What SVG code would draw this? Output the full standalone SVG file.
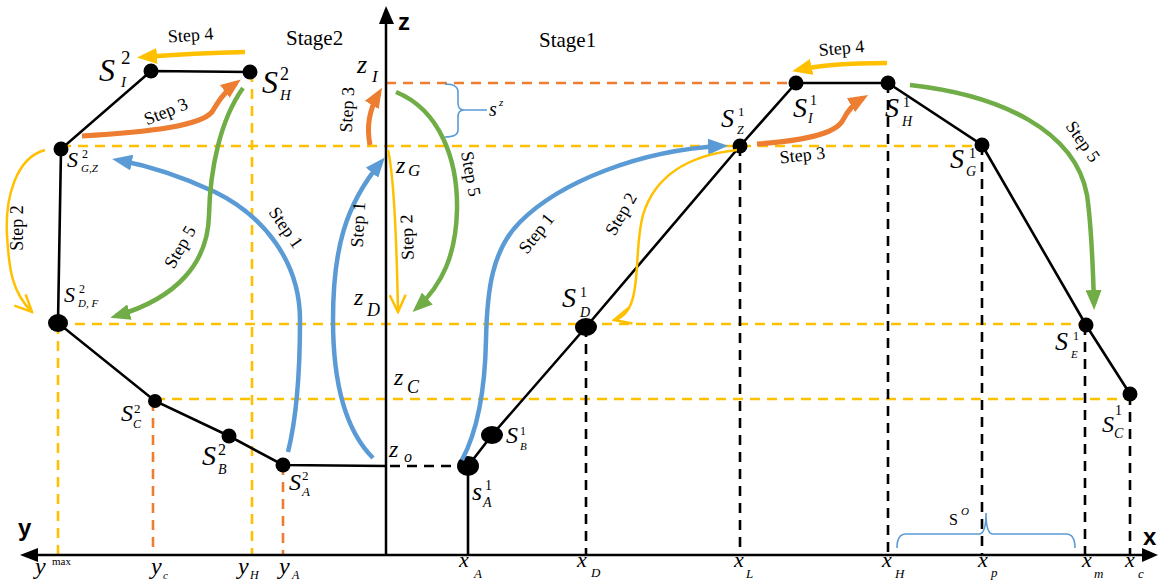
<svg xmlns="http://www.w3.org/2000/svg" width="1158" height="582" viewBox="0 0 1158 582">
<style>
.bg{fill:#fff}
.ax{stroke:#000;stroke-width:2.5;fill:none}
.edge{stroke:#000;stroke-width:2.6;fill:none}
.dy{stroke:#ffc000;stroke-width:2.6;stroke-dasharray:10 7;fill:none}
.do{stroke:#ed7d31;stroke-width:2.6;stroke-dasharray:10 7;fill:none}
.dk{stroke:#000;stroke-width:2.6;stroke-dasharray:10 7;fill:none}
.blue{stroke:#5b9bd5;stroke-width:4.5;fill:none;marker-end:url(#ab)}
.green{stroke:#70ad47;stroke-width:4.5;fill:none;marker-end:url(#ag)}
.orange{stroke:#ed7d31;stroke-width:5;fill:none;marker-end:url(#ao)}
.yel{stroke:#ffc000;stroke-width:4.5;fill:none;marker-end:url(#ay)}
.yth{stroke:#ffc000;stroke-width:2.5;fill:none;marker-end:url(#cy)}
.brace{stroke:#5b9bd5;stroke-width:1.6;fill:none}
.m{font-family:"Liberation Serif","Times New Roman","DejaVu Serif",serif;font-style:italic;fill:#000}
.u{font-family:"Liberation Serif","Times New Roman","DejaVu Serif",serif;fill:#000}
.st{font-family:"Liberation Serif","Times New Roman","DejaVu Serif",serif;font-size:18px;fill:#000;text-anchor:middle}
.ttl{font-family:"Liberation Serif","Times New Roman","DejaVu Serif",serif;font-size:21px;fill:#000}
.axl{font-family:"Liberation Sans",Arial,sans-serif;font-weight:bold;font-size:24px;fill:#000}
</style>
<defs>
<marker id="ab" markerUnits="userSpaceOnUse" markerWidth="20" markerHeight="16" viewBox="0 0 20 16" refX="14" refY="8" orient="auto"><path d="M0,0 L20,8 L0,16 z" fill="#5b9bd5"/></marker>
<marker id="ag" markerUnits="userSpaceOnUse" markerWidth="20" markerHeight="16" viewBox="0 0 20 16" refX="14" refY="8" orient="auto"><path d="M0,0 L20,8 L0,16 z" fill="#70ad47"/></marker>
<marker id="ao" markerUnits="userSpaceOnUse" markerWidth="20" markerHeight="16" viewBox="0 0 20 16" refX="14" refY="8" orient="auto"><path d="M0,0 L20,8 L0,16 z" fill="#ed7d31"/></marker>
<marker id="ay" markerUnits="userSpaceOnUse" markerWidth="20" markerHeight="16" viewBox="0 0 20 16" refX="14" refY="8" orient="auto"><path d="M0,0 L20,8 L0,16 z" fill="#ffc000"/></marker>
<marker id="cy" markerUnits="userSpaceOnUse" markerWidth="20" markerHeight="18" viewBox="0 0 20 18" refX="18" refY="9" orient="auto"><path d="M1,1 L18,9 L1,17" fill="none" stroke="#ffc000" stroke-width="2.5"/></marker>
</defs>
<rect class="bg" x="0" y="0" width="1158" height="582"/>

<g id="guides">
<line class="dy" x1="61" y1="146" x2="982" y2="146"/>
<line class="dy" x1="58" y1="324" x2="1086" y2="324"/>
<line class="dy" x1="155" y1="399" x2="1130" y2="399"/>
<line class="do" x1="386" y1="83" x2="796" y2="83"/>
<line class="dy" x1="58" y1="324" x2="58" y2="555"/>
<line class="dy" x1="252" y1="72" x2="252" y2="555"/>
<line class="do" x1="153" y1="401" x2="153" y2="555"/>
<line class="do" x1="283" y1="465" x2="283" y2="555"/>
<line class="dk" x1="586" y1="327" x2="586" y2="555"/>
<line class="dk" x1="740" y1="146" x2="740" y2="555"/>
<line class="dk" x1="888" y1="83" x2="888" y2="555"/>
<line class="dk" x1="982" y1="145" x2="982" y2="555"/>
<line class="dk" x1="1085" y1="325" x2="1085" y2="555"/>
<line class="dk" x1="1130" y1="395" x2="1130" y2="555"/>
<line class="dk" x1="390" y1="466" x2="458" y2="466"/>
</g>

<g id="axes">
<line class="ax" x1="36" y1="555" x2="1145" y2="555"/>
<path d="M20,555 L38,548 L38,562 z" fill="#000"/>
<path d="M1158,555 L1142,548 L1142,562 z" fill="#000"/>
<line class="ax" x1="386" y1="22" x2="386" y2="555"/>
<path d="M386,6 L379,24 L394,24 z" fill="#000"/>
<text class="axl" x="398" y="30">z</text>
<text class="axl" x="18" y="536">y</text>
<text class="axl" x="1143" y="545">x</text>
<text class="ttl" x="286" y="45">Stage2</text>
<text class="ttl" x="539" y="47">Stage1</text>
</g>

<g id="edges">
<polyline class="edge" points="250,72 151,71 61,149 58,323 155,401 229,436 283,465 386,466"/>
<polyline class="edge" points="468,466 492,435 586,327 740,146 796,83 888,83 982,145 1086,325 1130,394"/>
<line class="edge" x1="468" y1="466" x2="468" y2="555"/>
</g>

<g id="node-SI2"><circle cx="151" cy="71" r="7.5"/><text class="m" x="99" y="81" font-size="32">S</text><text class="u" x="121" y="64" font-size="19">2</text><text class="m" x="121" y="87" font-size="15">I</text></g>
<g id="node-SH2"><circle cx="250" cy="72" r="7.5"/><text class="m" x="262" y="93" font-size="32">S</text><text class="u" x="280" y="80" font-size="18">2</text><text class="m" x="280" y="100" font-size="15">H</text></g>
<g id="node-SGZ2"><circle cx="61" cy="149" r="7.5"/><text class="m" x="67" y="167" font-size="22">S</text><text class="u" x="82" y="158" font-size="12">2</text><text class="m" x="81" y="172" font-size="11">G,Z</text></g>
<g id="node-SDF2"><ellipse cx="58" cy="323" rx="10" ry="9"/><text class="m" x="64" y="302" font-size="22">S</text><text class="u" x="79" y="293" font-size="12">2</text><text class="m" x="78" y="307" font-size="11">D, F</text></g>
<g id="node-SC2"><circle cx="155" cy="401" r="7"/><text class="m" x="121" y="421" font-size="24">S</text><text class="u" x="134" y="413" font-size="13">2</text><text class="m" x="133" y="428" font-size="12">C</text></g>
<g id="node-SB2"><circle cx="229" cy="436" r="7.5"/><text class="m" x="202" y="465" font-size="28">S</text><text class="u" x="218" y="455" font-size="16">2</text><text class="m" x="218" y="474" font-size="14">B</text></g>
<g id="node-SA2"><circle cx="283" cy="465" r="7.5"/><text class="m" x="289" y="490" font-size="24">S</text><text class="u" x="302" y="480" font-size="13">2</text><text class="m" x="302" y="496" font-size="13">A</text></g>

<g id="node-SA1"><ellipse cx="468" cy="466" rx="11" ry="10"/><text class="m" x="472" y="500" font-size="26">s</text><text class="u" x="485" y="490" font-size="14">1</text><text class="m" x="483" y="507" font-size="14">A</text></g>
<g id="node-SB1"><ellipse cx="492" cy="435" rx="11" ry="9"/><text class="m" x="506" y="443" font-size="24">S</text><text class="u" x="520" y="435" font-size="12">1</text><text class="m" x="520" y="450" font-size="11">B</text></g>
<g id="node-SD1"><ellipse cx="586" cy="327" rx="11" ry="9"/><text class="m" x="562" y="307" font-size="28">S</text><text class="u" x="580" y="297" font-size="14">1</text><text class="m" x="580" y="317" font-size="14">D</text></g>
<g id="node-SZ1"><circle cx="740" cy="146" r="7.5"/><text class="m" x="721" y="127" font-size="26">S</text><text class="u" x="738" y="116" font-size="13">1</text><text class="m" x="737" y="134" font-size="12">Z</text></g>
<g id="node-SI1"><circle cx="796" cy="83" r="7.5"/><text class="m" x="793" y="117" font-size="28">S</text><text class="u" x="810" y="105" font-size="14">1</text><text class="m" x="808" y="123" font-size="14">I</text></g>
<g id="node-SH1"><circle cx="888" cy="83" r="7.5"/><text class="m" x="885" y="117" font-size="28">S</text><text class="u" x="903" y="107" font-size="14">1</text><text class="m" x="902" y="126" font-size="14">H</text></g>
<g id="node-SG1"><circle cx="982" cy="145" r="7.5"/><text class="m" x="950" y="168" font-size="28">S</text><text class="u" x="969" y="158" font-size="14">1</text><text class="m" x="966" y="176" font-size="14">G</text></g>
<g id="node-SE1"><circle cx="1086" cy="325" r="7.5"/><text class="m" x="1055" y="350" font-size="26">S</text><text class="u" x="1073" y="340" font-size="12">1</text><text class="m" x="1071" y="358" font-size="11">E</text></g>
<g id="node-SC1"><circle cx="1130" cy="394" r="7.5"/><text class="m" x="1102" y="432" font-size="24">S</text><text class="u" x="1115" y="415" font-size="14">1</text><text class="m" x="1114" y="438" font-size="14">C</text></g>

<g id="axis-labels">
<text class="m" x="35" y="574" font-size="24">y</text><text class="u" x="52" y="565" font-size="11">max</text>
<text class="m" x="151" y="574" font-size="24">y</text><text class="m" x="163" y="579" font-size="11">c</text>
<text class="m" x="238" y="574" font-size="24">y</text><text class="m" x="250" y="579" font-size="12">H</text>
<text class="m" x="279" y="574" font-size="24">y</text><text class="m" x="292" y="579" font-size="12">A</text>
<text class="m" x="459" y="567" font-size="22">x</text><text class="m" x="474" y="578" font-size="13">A</text>
<text class="m" x="577" y="567" font-size="22">x</text><text class="m" x="591" y="577" font-size="13">D</text>
<text class="m" x="734" y="567" font-size="22">x</text><text class="m" x="746" y="578" font-size="13">L</text>
<text class="m" x="882" y="567" font-size="22">x</text><text class="m" x="895" y="578" font-size="13">H</text>
<text class="m" x="978" y="567" font-size="22">x</text><text class="m" x="991" y="577" font-size="13">p</text>
<text class="m" x="1082" y="567" font-size="22">x</text><text class="m" x="1094" y="578" font-size="13">m</text>
<text class="m" x="1125" y="567" font-size="22">x</text><text class="m" x="1138" y="578" font-size="13">c</text>
<text class="m" x="357" y="73" font-size="26">z</text><text class="m" x="372" y="82" font-size="17">I</text>
<text class="m" x="396" y="173" font-size="24">z</text><text class="m" x="408" y="176" font-size="17">G</text>
<text class="m" x="354" y="305" font-size="24">z</text><text class="m" x="367" y="316" font-size="18">D</text>
<text class="m" x="394" y="385" font-size="24">z</text><text class="m" x="407" y="393" font-size="18">C</text>
<text class="m" x="389" y="457" font-size="24">z</text><text class="m" x="404" y="462" font-size="16">o</text>
</g>

<g id="braces">
<path class="brace" d="M445,84 Q458,84 458,92 L458,103 Q458,110 464,110 Q458,110 458,117 L458,130 Q458,137 445,137 M464,110 L487,110"/>
<text class="m" x="489" y="116" font-size="20">s</text><text class="m" x="499" y="106" font-size="11">z</text>
<path class="brace" d="M897,548 Q897,534 906,534 L979,534 Q986,534 986,513 Q986,534 993,534 L1066,534 Q1075,534 1075,548"/>
<text class="u" x="949" y="525" font-size="16">S</text><text class="m" x="961" y="515" font-size="11">O</text>
</g>

<g id="connectors">
<path class="blue" d="M288,452 C296,420 300,380 300,320 C300,260 262,215 215,192 C185,178 150,166 118,160"/>
<path class="blue" d="M373,458 C345,430 333,380 333,320 C333,250 345,205 381,162"/>
<path class="blue" d="M462,460 C478,430 485,390 486,340 C487,290 492,250 520,222 C560,182 640,150 722,146"/>
<path class="yth" d="M45,150 C15,158 5,200 7,235 C9,270 12,292 32,312"/>
<path class="yth" d="M388,150 C395,180 397,260 398,312"/>
<path class="yth" d="M737,150 C690,155 655,175 643,215 C632,255 645,312 614,320"/>
<path class="orange" d="M82,136 C150,132 200,126 212,112 C218,102 224,92 236,83"/>
<path class="orange" d="M370,145 C366,125 370,108 379,93"/>
<path class="orange" d="M757,144 C800,141 835,135 843,120 C848,110 853,104 863,98"/>
<path class="yel" d="M245,52 C200,53 170,55 143,57"/>
<path class="yel" d="M887,63 C850,63 820,65 798,70"/>
<path class="green" d="M243,88 C220,120 210,170 209,215 C208,262 178,298 116,316"/>
<path class="green" d="M396,92 C440,110 458,160 457,210 C456,255 442,285 417,308"/>
<path class="green" d="M910,85 C1000,95 1075,130 1087,195 C1092,230 1093,270 1094,304"/>
</g>

<g id="step-labels">
<text class="st" transform="translate(191,41) rotate(-4)">Step 4</text>
<text class="st" transform="translate(842,54) rotate(-5)">Step 4</text>
<text class="st" transform="translate(168,117) rotate(-22)">Step 3</text>
<text class="st" transform="translate(353,110) rotate(-87)">Step 3</text>
<text class="st" transform="translate(803,161) rotate(-6)">Step 3</text>
<text class="st" transform="translate(281,231) rotate(55)">Step 1</text>
<text class="st" transform="translate(364,225) rotate(-87)">Step 1</text>
<text class="st" transform="translate(541,237) rotate(-52)">Step 1</text>
<text class="st" transform="translate(23,228) rotate(-90)">Step 2</text>
<text class="st" transform="translate(413,237) rotate(-92)">Step 2</text>
<text class="st" transform="translate(626,217) rotate(-60)">Step 2</text>
<text class="st" transform="translate(185,250) rotate(-60)">Step 5</text>
<text class="st" transform="translate(465,175) rotate(80)">Step 5</text>
<text class="st" transform="translate(1078,145) rotate(55)">Step 5</text>
</g>
</svg>
